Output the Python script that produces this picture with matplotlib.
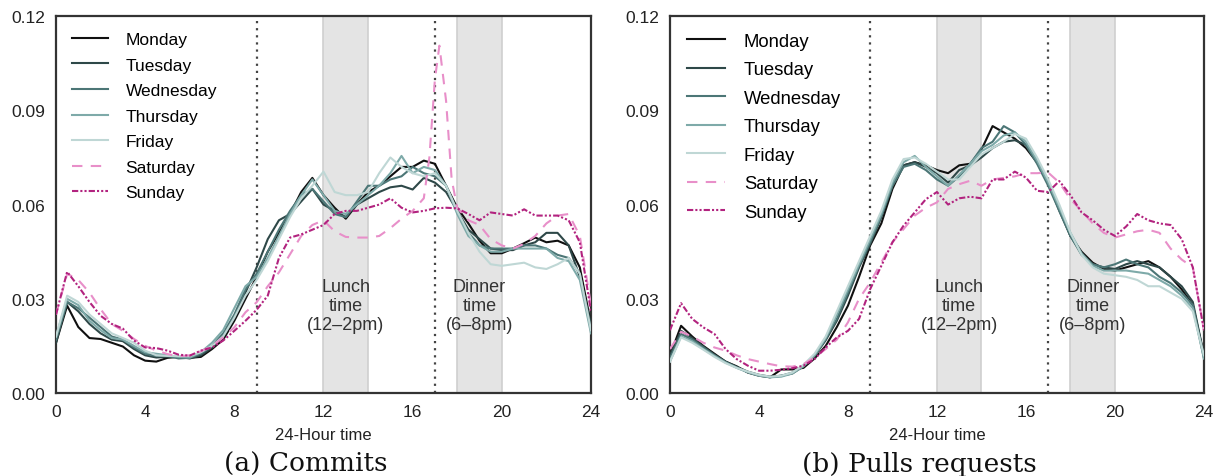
"""
Hour-of-day activity density for commits and pull requests, one curve per weekday.
"""
import matplotlib
matplotlib.use("Agg")
import matplotlib.pyplot as plt
import numpy as np

HOURS = np.arange(0, 24.5, 0.5)
DAYS = ["Monday", "Tuesday", "Wednesday", "Thursday", "Friday", "Saturday", "Sunday"]

# ---- commits -------------------------------------------------------------
COMMIT_MON = [0.016, 0.0278, 0.021, 0.0175, 0.0172, 0.016, 0.0148, 0.012, 0.0103, 0.0100,
              0.0112, 0.0115, 0.0112, 0.0115, 0.014, 0.017, 0.023, 0.030, 0.037, 0.045,
              0.051, 0.057, 0.064, 0.0685, 0.063, 0.059, 0.0555, 0.060, 0.064, 0.066,
              0.069, 0.072, 0.072, 0.074, 0.073, 0.066, 0.059, 0.054, 0.0485, 0.0445,
              0.0445, 0.046, 0.0477, 0.0495, 0.048, 0.0485, 0.047, 0.040, 0.022]
COMMIT_TUE = [0.016, 0.029, 0.026, 0.022, 0.019, 0.017, 0.0165, 0.014, 0.012, 0.0113,
              0.0115, 0.0115, 0.011, 0.012, 0.0145, 0.018, 0.024, 0.032, 0.040, 0.049,
              0.055, 0.057, 0.061, 0.065, 0.060, 0.058, 0.056, 0.060, 0.062, 0.064,
              0.0655, 0.066, 0.0648, 0.0685, 0.067, 0.064, 0.058, 0.052, 0.049, 0.046,
              0.0455, 0.0455, 0.047, 0.048, 0.051, 0.051, 0.047, 0.037, 0.022]
COMMIT_WED = [0.017, 0.029, 0.027, 0.024, 0.021, 0.018, 0.017, 0.0145, 0.0125, 0.0118,
              0.0118, 0.011, 0.0112, 0.0125, 0.015, 0.019, 0.025, 0.033, 0.038, 0.045,
              0.052, 0.058, 0.063, 0.065, 0.061, 0.057, 0.056, 0.061, 0.066, 0.066,
              0.068, 0.069, 0.072, 0.070, 0.069, 0.066, 0.058, 0.051, 0.047, 0.046,
              0.046, 0.046, 0.047, 0.047, 0.046, 0.044, 0.043, 0.038, 0.020]
COMMIT_THU = [0.018, 0.030, 0.028, 0.023, 0.020, 0.0175, 0.017, 0.015, 0.013, 0.0125,
              0.012, 0.0115, 0.0113, 0.013, 0.016, 0.020, 0.027, 0.034, 0.037, 0.043,
              0.050, 0.057, 0.063, 0.068, 0.063, 0.058, 0.057, 0.060, 0.063, 0.066,
              0.070, 0.0755, 0.070, 0.072, 0.071, 0.066, 0.057, 0.050, 0.047, 0.045,
              0.045, 0.046, 0.046, 0.046, 0.046, 0.043, 0.042, 0.036, 0.019]
COMMIT_FRI = [0.018, 0.031, 0.029, 0.025, 0.022, 0.019, 0.0175, 0.016, 0.0135, 0.012,
              0.0118, 0.0118, 0.0118, 0.013, 0.015, 0.018, 0.024, 0.031, 0.036, 0.042,
              0.049, 0.056, 0.062, 0.066, 0.0705, 0.064, 0.063, 0.063, 0.064, 0.070,
              0.075, 0.072, 0.070, 0.069, 0.070, 0.066, 0.058, 0.051, 0.045, 0.041,
              0.0405, 0.041, 0.0415, 0.040, 0.0395, 0.041, 0.043, 0.038, 0.020]
# Saturday has a sharp spike just after 5pm, so it carries a few extra hours
COMMIT_SAT_HOURS = [0, 0.5, 1, 1.5, 2, 2.5, 3, 3.5, 4, 4.5, 5, 5.5, 6, 6.5, 7, 7.5, 8,
                    8.5, 9, 9.5, 10, 10.5, 11, 11.5, 12, 12.5, 13, 13.5, 14, 14.5, 15,
                    15.5, 16, 16.5, 16.75, 17, 17.2, 17.5, 17.75, 18, 18.5, 19, 19.5,
                    20, 20.5, 21, 21.5, 22, 22.5, 23, 23.5, 24]
COMMIT_SAT = [0.025, 0.038, 0.036, 0.032, 0.0267, 0.022, 0.0198, 0.0172, 0.015, 0.0135,
              0.0124, 0.0117, 0.012, 0.0133, 0.015, 0.0177, 0.0209, 0.0257, 0.0289, 0.034,
              0.0384, 0.0442, 0.050, 0.0535, 0.055, 0.0515, 0.0497, 0.0495, 0.0495, 0.050,
              0.0525, 0.0555, 0.058, 0.062, 0.075, 0.100, 0.1106, 0.093, 0.068, 0.059,
              0.055, 0.0535, 0.049, 0.047, 0.046, 0.0475, 0.050, 0.054, 0.0565, 0.057,
              0.050, 0.028]
COMMIT_SUN = [0.025, 0.0386, 0.034, 0.029, 0.0246, 0.022, 0.0205, 0.0167, 0.0145, 0.0143,
              0.0135, 0.0122, 0.0119, 0.0135, 0.0145, 0.0167, 0.0198, 0.023, 0.0265, 0.031,
              0.043, 0.0495, 0.0505, 0.052, 0.0535, 0.057, 0.058, 0.058, 0.059, 0.060,
              0.062, 0.059, 0.0575, 0.058, 0.0588, 0.059, 0.0588, 0.057, 0.055, 0.0575,
              0.057, 0.0565, 0.0585, 0.0565, 0.0565, 0.0565, 0.055, 0.048, 0.026]

# ---- pull requests -------------------------------------------------------
PULL_MON = [0.012, 0.0214, 0.018, 0.015, 0.0125, 0.010, 0.0085, 0.0065, 0.0055, 0.005,
            0.0075, 0.0075, 0.008, 0.011, 0.015, 0.021, 0.0278, 0.037, 0.047, 0.054,
            0.065, 0.0725, 0.0735, 0.0725, 0.071, 0.070, 0.0725, 0.073, 0.0775, 0.085,
            0.083, 0.081, 0.078, 0.0734, 0.067, 0.059, 0.050, 0.045, 0.0415, 0.0395,
            0.039, 0.040, 0.041, 0.042, 0.040, 0.037, 0.033, 0.028, 0.012]
PULL_TUE = [0.012, 0.0198, 0.0175, 0.0148, 0.0122, 0.010, 0.0083, 0.0068, 0.0058, 0.0052,
            0.0055, 0.0062, 0.0085, 0.0118, 0.0168, 0.023, 0.031, 0.040, 0.0475, 0.056,
            0.066, 0.0725, 0.0735, 0.072, 0.070, 0.067, 0.071, 0.0725, 0.075, 0.078,
            0.080, 0.0805, 0.079, 0.074, 0.067, 0.058, 0.050, 0.0445, 0.041, 0.040,
            0.0395, 0.041, 0.042, 0.041, 0.040, 0.037, 0.034, 0.029, 0.012]
PULL_WED = [0.011, 0.0188, 0.017, 0.0145, 0.012, 0.0098, 0.0082, 0.0066, 0.0056, 0.005,
            0.0055, 0.0065, 0.0087, 0.012, 0.0172, 0.0236, 0.032, 0.0405, 0.048, 0.0564,
            0.066, 0.072, 0.073, 0.071, 0.068, 0.066, 0.069, 0.073, 0.078, 0.080,
            0.085, 0.083, 0.079, 0.073, 0.066, 0.058, 0.050, 0.044, 0.041, 0.040,
            0.041, 0.0425, 0.041, 0.040, 0.037, 0.035, 0.032, 0.028, 0.011]
PULL_THU = [0.010, 0.018, 0.0165, 0.014, 0.0118, 0.0097, 0.008, 0.0066, 0.0055, 0.005,
            0.0052, 0.0062, 0.0085, 0.012, 0.0175, 0.025, 0.033, 0.041, 0.049, 0.057,
            0.067, 0.0735, 0.0755, 0.072, 0.069, 0.066, 0.0695, 0.073, 0.077, 0.079,
            0.082, 0.083, 0.080, 0.074, 0.067, 0.059, 0.051, 0.0445, 0.0405, 0.039,
            0.039, 0.039, 0.0385, 0.038, 0.036, 0.034, 0.031, 0.027, 0.011]
PULL_FRI = [0.010, 0.0177, 0.016, 0.0138, 0.0115, 0.0095, 0.008, 0.0068, 0.0058, 0.0052,
            0.0055, 0.0065, 0.009, 0.0125, 0.018, 0.026, 0.034, 0.042, 0.050, 0.058,
            0.068, 0.0745, 0.075, 0.073, 0.0705, 0.068, 0.068, 0.072, 0.076, 0.078,
            0.080, 0.0825, 0.081, 0.075, 0.068, 0.060, 0.051, 0.044, 0.040, 0.038,
            0.0375, 0.037, 0.036, 0.034, 0.034, 0.032, 0.030, 0.026, 0.012]
PULL_SAT = [0.014, 0.0195, 0.018, 0.016, 0.0145, 0.0135, 0.012, 0.0108, 0.010, 0.0092,
            0.0085, 0.0084, 0.0092, 0.0113, 0.014, 0.017, 0.0225, 0.030, 0.0352, 0.0416,
            0.048, 0.0522, 0.0565, 0.059, 0.0607, 0.065, 0.0665, 0.0676, 0.066, 0.068,
            0.0685, 0.069, 0.070, 0.070, 0.0702, 0.067, 0.0617, 0.058, 0.054, 0.051,
            0.0495, 0.0505, 0.0515, 0.052, 0.051, 0.046, 0.0425, 0.040, 0.020]
PULL_SUN = [0.020, 0.0286, 0.0236, 0.0209, 0.0188, 0.014, 0.0108, 0.0087, 0.0071, 0.0071,
            0.0074, 0.0079, 0.0087, 0.0108, 0.0145, 0.0177, 0.0198, 0.0236, 0.0331, 0.0405,
            0.048, 0.0533, 0.0575, 0.0617, 0.064, 0.060, 0.062, 0.0625, 0.062, 0.068,
            0.068, 0.0705, 0.0686, 0.0644, 0.064, 0.0675, 0.063, 0.0575, 0.055, 0.052,
            0.050, 0.053, 0.057, 0.055, 0.054, 0.0535, 0.049, 0.040, 0.020]

COLORS = ["#101010", "#2e4848", "#4c7676", "#7eaaa9", "#bfd7d5", "#e88fc9", "#b2237f"]
STYLES = ["-", "-", "-", "-", "-", (0, (5, 4)), (0, (3, 1, 1, 1, 1, 1))]

plt.rcParams["font.family"] = ["Liberation Sans", "DejaVu Sans"]

fig = plt.figure(figsize=(12.15, 4.77), dpi=100)
ax_c = fig.add_axes([0.0461, 0.174, 0.4403, 0.790])
ax_p = fig.add_axes([0.5514, 0.174, 0.4395, 0.790])

commit_series = [(HOURS, COMMIT_MON), (HOURS, COMMIT_TUE), (HOURS, COMMIT_WED),
                 (HOURS, COMMIT_THU), (HOURS, COMMIT_FRI),
                 (COMMIT_SAT_HOURS, COMMIT_SAT), (HOURS, COMMIT_SUN)]
pull_series = [(HOURS, PULL_MON), (HOURS, PULL_TUE), (HOURS, PULL_WED),
               (HOURS, PULL_THU), (HOURS, PULL_FRI), (HOURS, PULL_SAT), (HOURS, PULL_SUN)]


def draw_panel(ax, series, legend_size, spacing, caption, cap_x):
    for lo, hi in [(12, 14), (18, 20)]:
        ax.axvspan(lo, hi, facecolor="#e4e4e4", edgecolor="#cfcfcf", lw=1.2, zorder=0)
    for x in (9, 17):
        ax.axvline(x, color="#444444", ls=(0, (1, 2.2)), lw=1.6, zorder=1)

    for (xs, ys), day, col, st in zip(series, DAYS, COLORS, STYLES):
        ax.plot(xs, ys, color=col, ls=st, lw=1.5, label=day, zorder=3)

    ax.text(13, 0.0278, "Lunch\ntime\n(12\u20132pm)", ha="center", va="center",
            fontsize=13, color="#333333", linespacing=1.15, zorder=4)
    ax.text(19, 0.0278, "Dinner\ntime\n(6\u20138pm)", ha="center", va="center",
            fontsize=13, color="#333333", linespacing=1.15, zorder=4)

    ax.set_xlim(0, 24)
    ax.set_ylim(0, 0.12)
    ax.set_xticks(range(0, 25, 4))
    ax.set_yticks([0, 0.03, 0.06, 0.09, 0.12])
    ax.set_yticklabels(["0.00", "0.03", "0.06", "0.09", "0.12"])
    ax.tick_params(length=0, labelsize=12.5, colors="#222222", pad=8)
    for sp in ax.spines.values():
        sp.set_color("#333333")
        sp.set_linewidth(1.6)
    ax.set_xlabel("24-Hour time", fontsize=12, color="#222222", labelpad=6)

    ax.legend(loc="upper left", frameon=False, fontsize=legend_size,
              handlelength=2.1, handletextpad=1.0, labelspacing=spacing,
              borderaxespad=0.5)

    fig.text(cap_x, 0.026, caption, ha="center", va="center", fontsize=19,
             family="DejaVu Serif", color="#111111")


draw_panel(ax_c, commit_series, 12.5, 0.6, "(a) Commits", 0.252)
draw_panel(ax_p, pull_series, 13.3, 0.62, "(b) Pulls requests", 0.757)

fig.savefig("out.png", dpi=100)
